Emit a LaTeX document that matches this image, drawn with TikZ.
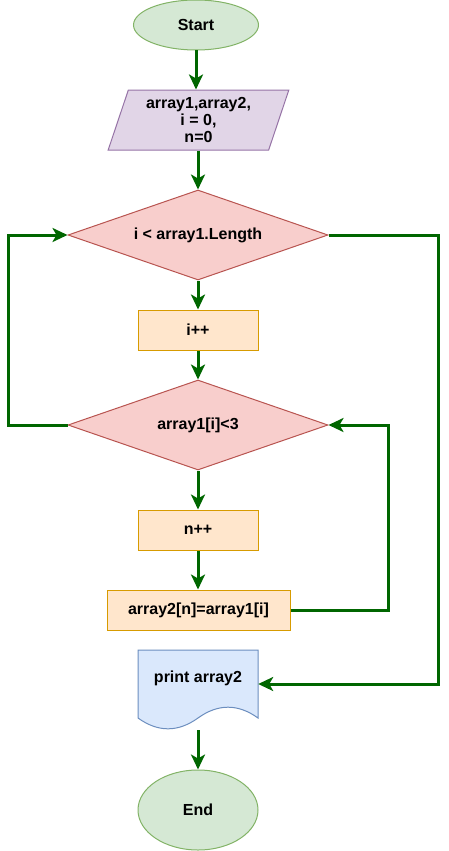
\documentclass[tikz,border=0pt]{standalone}
\usepackage{fontspec}
\setmainfont{Liberation Sans}
\usetikzlibrary{arrows.meta,shapes.geometric}
\definecolor{termfill}{HTML}{D5E8D4}
\definecolor{termdraw}{HTML}{82B366}
\definecolor{iofill}{HTML}{E1D5E7}
\definecolor{iodraw}{HTML}{9673A6}
\definecolor{decfill}{HTML}{F8CECC}
\definecolor{decdraw}{HTML}{B85450}
\definecolor{procfill}{HTML}{FFE6CC}
\definecolor{procdraw}{HTML}{D79B00}
\definecolor{docfill}{HTML}{DAE8FC}
\definecolor{docdraw}{HTML}{6C8EBF}
\definecolor{flow}{HTML}{006600}
\tikzset{
  lbl/.style={font=\fontsize{16}{17}\selectfont\bfseries, align=center},
  term/.style={lbl, ellipse, draw=termdraw, fill=termfill, line width=1pt, inner sep=0pt},
  iobox/.style={lbl, trapezium, trapezium left angle=71.6, trapezium right angle=108.4, trapezium stretches=true, draw=iodraw, fill=iofill, line width=1pt, inner sep=0pt, minimum width=181pt, minimum height=60pt},
  decision/.style={diamond, draw=decdraw, fill=decfill, line width=1pt, inner sep=0pt, minimum width=260pt, minimum height=90pt},
  procbox/.style={lbl, rectangle, draw=procdraw, fill=procfill, line width=1pt, inner sep=0pt, minimum height=40pt},
  flowline/.style={draw=flow, line width=3pt, -{Stealth[length=15pt,width=14pt,inset=4pt]}},
}
\begin{document}
\begin{tikzpicture}[x=1pt,y=-1pt]
\useasboundingbox (0,0) rectangle (449,851);

\node[term, minimum width=125pt, minimum height=50pt] (start) at (196,25) {Start};
\node[iobox] (par) at (198.5,120) {array1,array2,\\i = 0,\\n=0};
\node[decision] (d1) at (198,235) {};
\node[lbl] (d1text) at (198,235) {i < array1.Length};
\node[procbox, minimum width=120pt] (inc) at (198,330) {i++};
\node[decision] (d2) at (198,425) {};
\node[lbl] (d2text) at (198,425) {array1[i]<3};
\node[procbox, minimum width=120pt] (npp) at (198,530) {n++};
\node[procbox, minimum width=183pt] (asg) at (198.5,610) {array2[n]=array1[i]};

% document shape
\node[rectangle, inner sep=0pt, minimum width=120pt, minimum height=68pt] (doc) at (198,684) {};
\path[draw=docdraw, fill=docfill, line width=1pt]
  (138,650) -- (258,650) -- (258,718)
  .. controls (238,703.6) and (218,703.6) .. (198,718)
  .. controls (178,732.4) and (158,732.4) .. (138,718) -- cycle;
\node[lbl] (doctext) at (198,678) {print array2};
\coordinate (docbot) at (198,730);

\node[term, minimum width=120pt, minimum height=80pt] (end) at (198,810) {End};

\coordinate (l1) at (8,425);
\coordinate (r1) at (438,235);
\coordinate (r2) at (388,610);

\draw[flowline] (start.south) -- (start.south |- par.north);
\draw[flowline] (par.south -| d1.north) -- (d1.north);
\draw[flowline] (d1.south) -- (inc.north);
\draw[flowline] (inc.south) -- (d2.north);
\draw[flowline] (d2.south) -- (npp.north);
\draw[flowline] (npp.south) -- (npp.south |- asg.north);
\draw[flowline] (asg.east) -- (r2) |- (d2.east);
\draw[flowline] (d2.west) -- (l1) |- (d1.west);
\draw[flowline] (d1.east) -- (r1) |- (doc.east);
\draw[flowline] (docbot) -- (end.north);
\end{tikzpicture}
\end{document}
